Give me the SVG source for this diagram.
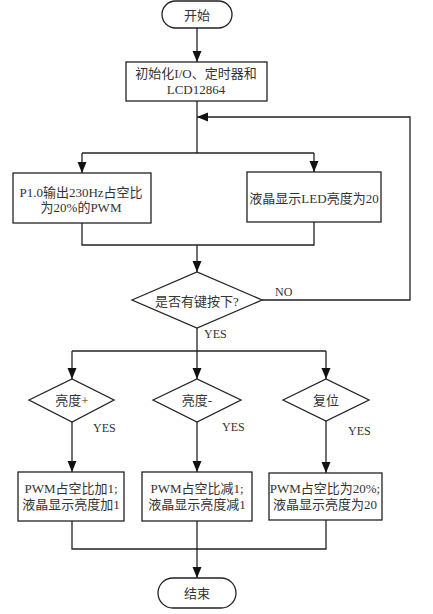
<svg xmlns="http://www.w3.org/2000/svg" width="433" height="614" viewBox="0 0 433 614">
<style>
.s{fill:#fff;stroke:#222;stroke-width:1.3}
.c{fill:none;stroke:#222;stroke-width:1.3}
.t{font-family:"Liberation Serif","Noto Sans CJK SC",serif;font-size:13px;fill:#333;text-anchor:middle;dominant-baseline:central}
.l{font-family:"Liberation Serif","Noto Sans CJK SC",serif;font-size:12px;fill:#333;dominant-baseline:central}
</style>
<defs>
<marker id="a" markerUnits="userSpaceOnUse" markerWidth="12" markerHeight="12" viewBox="0 0 12 12" refX="11" refY="6" orient="auto">
<path d="M0,1.5 L11,6 L0,10.5 Z" fill="#111"/>
</marker>
</defs>
<rect width="433" height="614" fill="#fff"/>
<g id="connectors">
<path class="c" d="M197,28 V62" marker-end="url(#a)"/>
<path class="c" d="M197,101 V153"/>
<path class="c" d="M82,153 H314"/>
<path class="c" d="M82,153 V173" marker-end="url(#a)"/>
<path class="c" d="M314,153 V172" marker-end="url(#a)"/>
<path class="c" d="M82,223 V245 H314 V222"/>
<path class="c" d="M197,245 V272" marker-end="url(#a)"/>
<path class="c" d="M262,300 H410 V117 H197" marker-end="url(#a)"/>
<path class="c" d="M197,328 V351"/>
<path class="c" d="M72,351 H326"/>
<path class="c" d="M72,351 V379" marker-end="url(#a)"/>
<path class="c" d="M197,351 V379" marker-end="url(#a)"/>
<path class="c" d="M326,351 V379" marker-end="url(#a)"/>
<path class="c" d="M72,422 V472" marker-end="url(#a)"/>
<path class="c" d="M197,422 V472" marker-end="url(#a)"/>
<path class="c" d="M326,421 V473" marker-end="url(#a)"/>
<path class="c" d="M72,521 V549 H326 V520"/>
<path class="c" d="M197,521 V578" marker-end="url(#a)"/>
<text class="l" x="275" y="292">NO</text>
<text class="l" x="204" y="334">YES</text>
<text class="l" x="93" y="428">YES</text>
<text class="l" x="222" y="427">YES</text>
<text class="l" x="348" y="431">YES</text>
</g>
<g id="start">
<rect class="s" x="162" y="1" width="70" height="27" rx="13.5"/>
<text class="t" x="197" y="15">开始</text>
</g>
<g id="init">
<rect class="s" x="126" y="62" width="141" height="39"/>
<text class="t" x="196" y="73">初始化I/O、定时器和</text>
<text class="t" x="196" y="89">LCD12864</text>
</g>
<g id="pwm">
<rect class="s" x="13" y="173" width="138" height="50"/>
<text class="t" x="81" y="192">P1.0输出230Hz占空比</text>
<text class="t" x="81" y="207">为20%的PWM</text>
</g>
<g id="lcd">
<rect class="s" x="247" y="172" width="134" height="50"/>
<text class="t" x="314" y="198">液晶显示LED亮度为20</text>
</g>
<g id="key">
<polygon class="s" points="132,300 197,272 262,300 197,328"/>
<text class="t" x="197" y="301">是否有键按下?</text>
</g>
<g id="up">
<polygon class="s" points="29,400 72,379 114,400 72,422"/>
<text class="t" x="72" y="400">亮度+</text>
</g>
<g id="down">
<polygon class="s" points="153,400 197,379 241,400 197,422"/>
<text class="t" x="197" y="400">亮度-</text>
</g>
<g id="reset">
<polygon class="s" points="283,400 326,379 369,400 326,421"/>
<text class="t" x="326" y="400">复位</text>
</g>
<g id="inc">
<rect class="s" x="18" y="472" width="106" height="49"/>
<text class="t" x="71" y="488">PWM占空比加1;</text>
<text class="t" x="71" y="504">液晶显示亮度加1</text>
</g>
<g id="dec">
<rect class="s" x="142" y="472" width="110" height="49"/>
<text class="t" x="197" y="488">PWM占空比减1;</text>
<text class="t" x="197" y="504">液晶显示亮度减1</text>
</g>
<g id="rst">
<rect class="s" x="269" y="473" width="113" height="47"/>
<text class="t" x="325" y="488">PWM占空比为20%;</text>
<text class="t" x="325" y="504">液晶显示亮度为20</text>
</g>
<g id="end">
<rect class="s" x="158" y="578" width="78" height="30" rx="15"/>
<text class="t" x="197" y="593">结束</text>
</g>
</svg>
